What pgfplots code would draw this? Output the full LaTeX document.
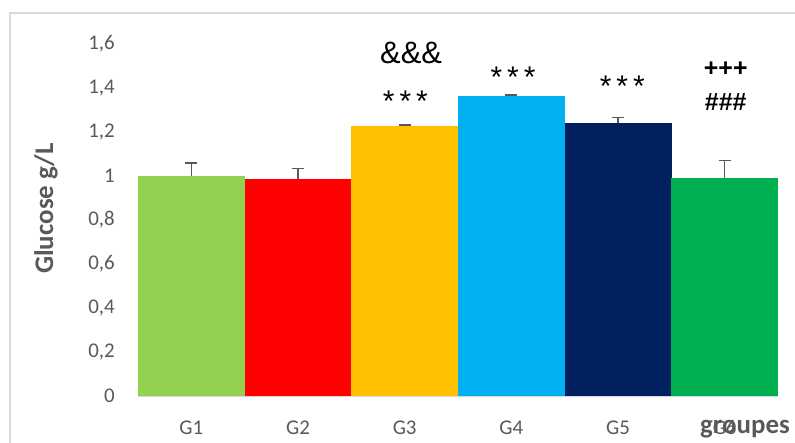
\documentclass[border=0pt]{standalone}
\usepackage{pgfplots}
\pgfplotsset{compat=1.18}
\usepackage{fontspec}
\setmainfont{Carlito}
\newfontfamily\arialfont{Liberation Sans}
\definecolor{axisgray}{HTML}{595959}
\definecolor{linegray}{HTML}{D9D9D9}
\definecolor{cGa}{HTML}{92D050}
\definecolor{cGb}{HTML}{FF0000}
\definecolor{cGc}{HTML}{FFC000}
\definecolor{cGd}{HTML}{00B0F0}
\definecolor{cGe}{HTML}{002060}
\definecolor{cGf}{HTML}{00B050}
\newcommand{\stars}{*\kern5bp*\kern5bp*}

\begin{document}
\begin{tikzpicture}[x=1bp,y=1bp]
\useasboundingbox (0,0) rectangle (795,443);
% chart frame, running off the page at the right and bottom
\begin{scope}
\clip (0,0) rectangle (795,443);
\draw[linegray, line width=1.5bp] (10,-20) -- (10,430) -- (820,430);
\end{scope}
\begin{axis}[
  at={(138bp,47bp)}, anchor=south west,
  scale only axis, width=640bp, height=352bp,
  xmin=-0.5, xmax=5.5, ymin=0, ymax=1.6,
  clip=false,
  ybar,
  every axis plot/.append style={bar shift=0pt, bar width=107bp, draw=none},
  axis x line=bottom, axis y line=left,
  x axis line style={linegray, line width=1.5bp, -},
  y axis line style={draw=none},
  major tick length=0pt,
  xtick={0,1,2,3,4,5},
  xticklabels={G1,G2,G3,G4,G5,G6},
  ytick={0,0.2,0.4,0.6,0.8,1,1.2,1.4,1.6},
  /pgf/number format/.cd, use comma, fixed, precision=1, assume math mode=true,
  /pgfplots/.cd,
  tick label style={font=\fontsize{21}{25}\selectfont, text=axisgray, inner sep=0pt},
  yticklabel style={anchor=east, xshift=-23bp},
  xticklabel style={anchor=base, yshift=-39bp},
  errstyle/.style={error bars/.cd, y dir=plus, y explicit,
    error bar style={axisgray, line width=1.5bp},
    error mark options={rotate=90, mark size=6bp, line width=1.5bp, axisgray}},
]
\addplot[fill=cGa, errstyle] coordinates {(0,1.000) +- (0,0.058)};
\addplot[fill=cGb, errstyle] coordinates {(1,0.986) +- (0,0.049)};
\addplot[fill=cGc, errstyle] coordinates {(2,1.227) +- (0,0.004)};
\addplot[fill=cGd, errstyle] coordinates {(3,1.364) +- (0,0.005)};
\addplot[fill=cGe, errstyle] coordinates {(4,1.241) +- (0,0.024)};
\addplot[fill=cGf, errstyle] coordinates {(5,0.991) +- (0,0.080)};

% significance marks
\node[anchor=base, font=\arialfont\fontsize{31}{36}\selectfont] at (axis cs:2.06,1.51) {\&\&\&};
\node[anchor=base, font=\arialfont\fontsize{30}{36}\selectfont] at (axis cs:2.007,1.293) {\stars};
\node[anchor=base, font=\arialfont\fontsize{30}{36}\selectfont] at (axis cs:3.016,1.402) {\stars};
\node[anchor=base, font=\arialfont\fontsize{30}{36}\selectfont] at (axis cs:4.04,1.361) {\stars};
\node[anchor=base, font=\arialfont\bfseries\fontsize{25}{30}\selectfont] at (axis cs:5.01,1.452) {+++};
\node[anchor=base, font=\arialfont\bfseries\fontsize{25}{30}\selectfont] at (axis cs:5.01,1.297) {\#\#\#};
\end{axis}
\node[rotate=90, anchor=base, font=\bfseries\fontsize{27}{32}\selectfont, text=axisgray] at (53,234.5) {Glucose g/L};
\node[anchor=base west, inner sep=0pt, font=\bfseries\fontsize{27}{32}\selectfont, text=axisgray] at (700,9) {groupes};
\end{tikzpicture}
\end{document}
